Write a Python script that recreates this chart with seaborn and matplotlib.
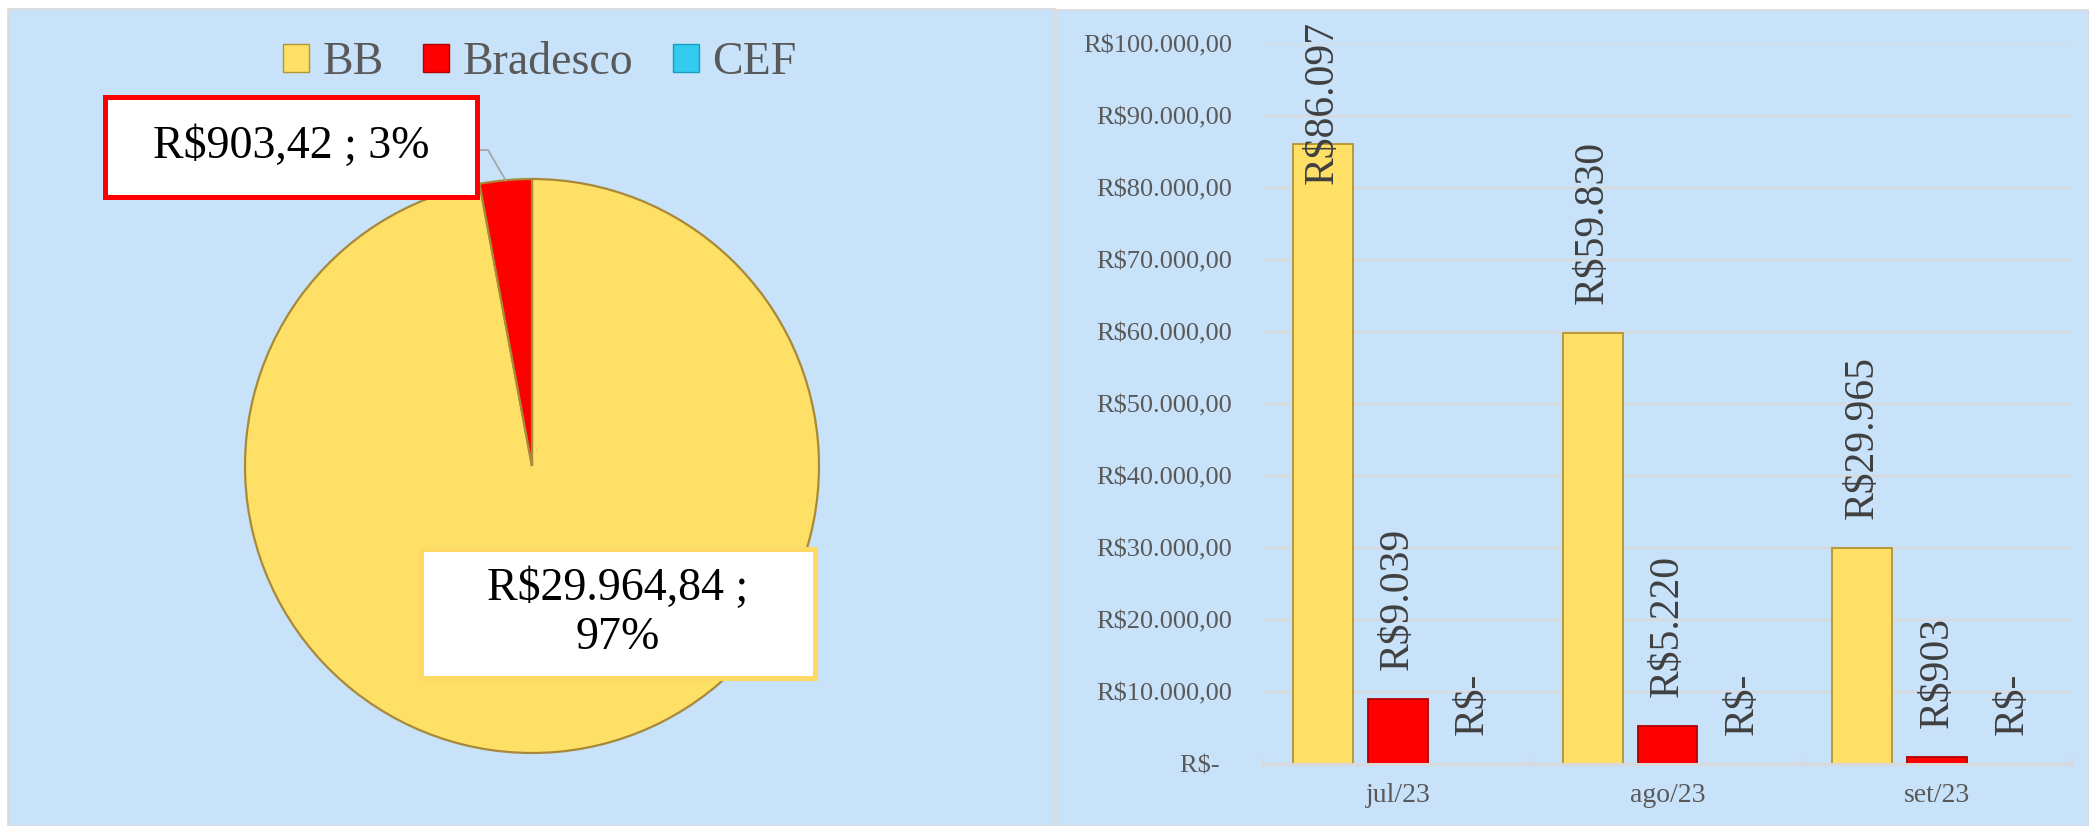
import matplotlib
matplotlib.use("Agg")
import matplotlib.pyplot as plt
import seaborn as sns
import pandas as pd
import numpy as np
from matplotlib.patches import Rectangle
from matplotlib.lines import Line2D

# ---------------- data ----------------
banks = ["BB", "Bradesco", "CEF"]
months = ["jul/23", "ago/23", "set/23"]
bb_values = [86097, 59830, 29965]
bradesco_values = [9039, 5220, 903]
cef_values = [0, 0, 0]
pie_values = [29964.84, 903.42, 0.0]
pie_labels = ["R$29.964,84 ;\n97%", "R$903,42 ; 3%", ""]
y_ticks = list(range(0, 100001, 10000))

colors = {"BB": "#FFE066", "Bradesco": "#FF0000", "CEF": "#33CCF0"}
edges = {"BB": "#B39434", "Bradesco": "#B00000", "CEF": "#1A9CC0"}

SERIF = ["Liberation Serif", "DejaVu Serif"]
plt.rcParams["font.family"] = SERIF

W, H, DPI = 2089, 826, 100
fig = plt.figure(figsize=(W / DPI, H / DPI), dpi=DPI, facecolor="white")

def fx(x):
    return x / W

def fy(y):
    return 1 - y / H

BG = "#C8E2F9"
BORDER = "#D9D9D9"
# panel backgrounds
fig.patches.append(Rectangle((fx(8), 0), fx(1055 - 8), 1 - 9 / H, transform=fig.transFigure,
                             facecolor=BG, edgecolor=BORDER, lw=1.2, zorder=-10))
fig.patches.append(Rectangle((fx(1057), 0), fx(2089 - 1057), 1 - 10 / H, transform=fig.transFigure,
                             facecolor=BG, edgecolor=BORDER, lw=1.2, zorder=-10))

# ---------------- pie ----------------
ax_pie = fig.add_axes([fx(245), fy(753), fx(574), 574 / H])
ax_pie.set_facecolor("none")
pie_df = pd.DataFrame({"bank": banks, "value": pie_values, "label": pie_labels})
pie_nz = pie_df[pie_df["value"] > 0]
wedges, _ = ax_pie.pie(pie_nz["value"], colors=[colors[b] for b in pie_nz["bank"]],
                       startangle=90, counterclock=False,
                       wedgeprops=dict(edgecolor="#A8893A", linewidth=1.6))
ax_pie.set_xlim(-1, 1)
ax_pie.set_ylim(-1, 1)
ax_pie.axis("off")

# label boxes (figure pixel layout)
def label_box(x0, y0, x1, y1, edge, text):
    fig.patches.append(Rectangle((fx(x0), fy(y1)), fx(x1 - x0), (y1 - y0) / H,
                                 transform=fig.transFigure, facecolor="white",
                                 edgecolor=edge, lw=3.6, zorder=5))
    fig.text(fx((x0 + x1) / 2), fy((y0 + y1) / 2), text, ha="center", va="center",
             fontsize=33, color="black", linespacing=1.2, zorder=6)

label_box(105, 97, 477, 197, "#FF0000", pie_nz["label"].iloc[1])
label_box(421, 549, 815, 678, "#FFD966", pie_nz["label"].iloc[0])

# leader line from Bradesco wedge to its box
w = wedges[1]
mid = np.deg2rad((w.theta1 + w.theta2) / 2)
px, py = ax_pie.transData.transform((np.cos(mid), np.sin(mid)))
pfx, pfy = fig.transFigure.inverted().transform((px, py))
fig.lines.append(Line2D([fx(477), fx(488), pfx], [fy(150), fy(150), pfy],
                       transform=fig.transFigure, color="#A6A6A6", lw=1.3, zorder=4))

# legend
handles = [Rectangle((0, 0), 1, 1, facecolor=colors[b], edgecolor=edges[b], lw=1) for b in banks]
fig.legend(handles, banks, loc="center", bbox_to_anchor=(fx(540), fy(63)), ncol=3,
           frameon=False, prop={"family": SERIF, "size": 33}, labelcolor="#595959",
           handlelength=0.57, handleheight=0.57, handletextpad=0.3, columnspacing=0.85)

# ---------------- bars ----------------
ax = fig.add_axes([fx(1263), fy(764), fx(2072 - 1263), 720 / H])
ax.set_facecolor("none")
df = pd.DataFrame({
    "month": months * 3,
    "bank": ["BB"] * 3 + ["Bradesco"] * 3 + ["CEF"] * 3,
    "value": bb_values + bradesco_values + cef_values,
})
sns.barplot(data=df, x="month", y="value", hue="bank", order=months, hue_order=banks,
            palette=colors, saturation=1, width=0.834, gap=0.2, errorbar=None,
            legend=False, ax=ax, zorder=3)
for cont, b in zip(ax.containers, banks):
    for p in cont:
        p.set_edgecolor(edges[b])
        p.set_linewidth(1.3)

ax.set_xlim(-0.5, 2.5)
ax.set_ylim(0, 100000)

def brl_tick(v):
    return "R$-  " if v == 0 else "R$" + f"{v:,.2f}".replace(",", "X").replace(".", ",").replace("X", ".")

def brl_label(v):
    return "R$-" if v == 0 else "R$" + f"{v:,.0f}".replace(",", ".")

ax.set_yticks(y_ticks)
ax.set_yticklabels([brl_tick(v) for v in y_ticks])
ax.yaxis.grid(True, color=BORDER, lw=1.5, zorder=0)
ax.set_axisbelow(True)
for s in ["left", "right", "top"]:
    ax.spines[s].set_visible(False)
ax.spines["bottom"].set_color(BORDER)
ax.spines["bottom"].set_linewidth(2.2)
ax.spines["bottom"].set_zorder(4)
ax.tick_params(axis="y", length=0, pad=22, labelsize=19, labelcolor="#595959")
ax.tick_params(axis="x", which="major", length=0, pad=14, labelsize=20, labelcolor="#595959")
ax.set_xticks([-0.5, 0.5, 1.5, 2.5], minor=True)
ax.tick_params(axis="x", which="minor", length=5, width=1.6, color=BORDER, direction="in")
ax.set_xlabel("")
ax.set_ylabel("")

texts = []
for cont in ax.containers:
    for p in cont:
        h = p.get_height()
        t = ax.annotate(brl_label(h), xy=(p.get_x() + p.get_width() / 2, h),
                        xytext=(0, 21), textcoords="offset points", rotation=90,
                        ha="center", va="bottom", fontsize=30, color="#404040", zorder=6,
                        annotation_clip=False)
        texts.append(t)

fig.canvas.draw()
renderer = fig.canvas.get_renderer()
top_limit = H - 21
for t in texts:
    bb = t.get_window_extent(renderer)
    if bb.y1 > top_limit:
        excess = bb.y1 - top_limit
        ox, oy = t.xyann
        t.xyann = (ox, oy - excess * 72 / DPI)

fig.savefig("out.png", dpi=DPI, facecolor="white")
